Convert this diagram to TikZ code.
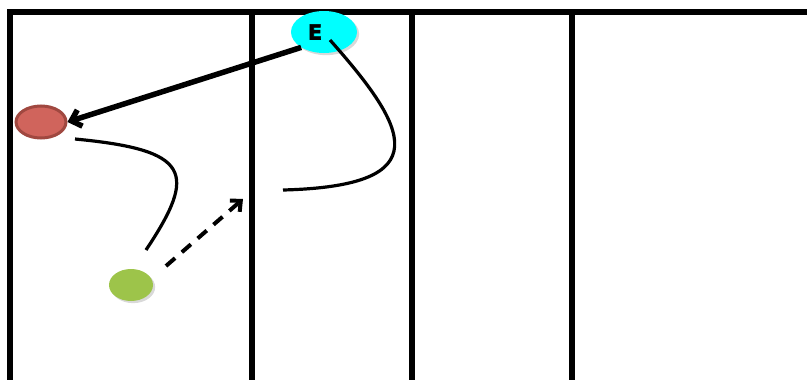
\documentclass[tikz,border=0pt]{standalone}
\usepackage{fontspec}
\usepackage{tikz}
\usetikzlibrary{arrows.meta,positioning,shadows,shapes.geometric}
\newfontfamily\heavyfont{DejaVu Sans}[FakeBold=3]
\definecolor{cyanE}{HTML}{00FFFF}
\definecolor{redfill}{HTML}{D0645C}
\definecolor{reddraw}{HTML}{A04840}
\definecolor{greenfill}{HTML}{9DC44A}

\begin{document}
\begin{tikzpicture}[x=1pt,y=-1pt,
    player/.style={ellipse,minimum width=#1,inner sep=0pt},
    wall/.style={line width=5.5pt},
    run/.style={line width=3.2pt}]
    \useasboundingbox (0,0) rectangle (807,380);
    % lanes
    \draw[wall] (7,12) -- (807,12);
    \foreach \x in {10,252,412,572}
      \draw[wall] (\x,12) -- (\x,382);
    % players
    \node[player=66pt,minimum height=42pt,fill=cyanE,drop shadow={opacity=0.3},font=\heavyfont\bfseries\huge,text depth=0pt] (nodeE) at (324,32) {E\kern18pt\relax};
    \node[player=50pt,minimum height=32pt,fill=redfill,draw=reddraw,line width=3pt] (nodeR) at (41,122) {};
    \node[player=44pt,minimum height=32pt,fill=greenfill,drop shadow={opacity=0.3}] (nodeG) at (131,285) {};
    % runs
    \coordinate (startE) at (330,40);
    \coordinate (endE) at (283,190);
    \coordinate (startR) at (75,139);
    \coordinate (endR) at (146,250);
    \coordinate (startG) at (166,266);
    \coordinate (endG) at (243,199);
    \draw[line width=5.5pt,-{Straight Barb[length=9pt,width=17pt]}] (nodeE.-146) -- (nodeR.east);
    \draw[run] (startE) .. controls (408,128) and (440,186) .. (endE);
    \draw[run] (startR) .. controls (190,150) and (198,172) .. (endR);
    \draw[line width=4pt,dash pattern=on 12pt off 9pt,-{Straight Barb[length=8pt,width=15pt]}] (startG) -- (endG);
\end{tikzpicture}
\end{document}
